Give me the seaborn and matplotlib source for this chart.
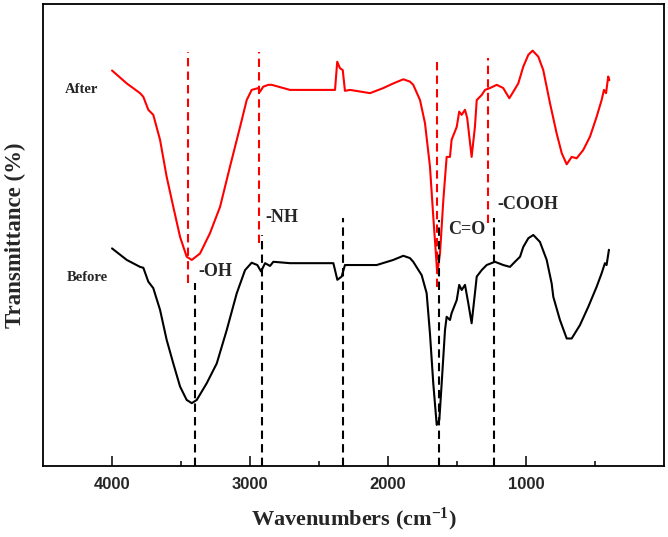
import numpy as np
import pandas as pd
import seaborn as sns
import matplotlib.pyplot as plt

# FTIR spectra (wavenumber in cm-1, transmittance in arbitrary %)
after_wn = [4000, 3893, 3797, 3773, 3737, 3701, 3652, 3604, 3556, 3507, 3459, 3422,
            3362, 3290, 3217, 3145, 3072, 3024, 2988, 2940, 2928, 2904, 2867, 2843,
            2710, 2384, 2368, 2348, 2328, 2312, 2275, 2130, 2034, 1962, 1889, 1841,
            1817, 1768, 1732, 1696, 1672, 1643, 1623, 1599, 1575, 1551, 1539, 1502,
            1484, 1466, 1442, 1426, 1394, 1370, 1357, 1321, 1297, 1261, 1212, 1165,
            1121, 1092, 1056, 1020, 983, 952, 911, 875, 826, 778, 741, 705, 669, 633,
            585, 536, 488, 452, 435, 420, 404, 396]
after_t = [85.6, 82.8, 80.7, 79.9, 77.1, 76.0, 70.6, 62.6, 56.1, 49.6, 45.3, 44.6,
           46.0, 50.4, 56.1, 64.8, 73.4, 79.2, 81.4, 81.8, 81.0, 82.1, 82.5, 82.5,
           81.4, 81.4, 87.5, 86.1, 85.7, 81.2, 81.4, 80.7, 81.8, 82.8, 83.7, 83.2,
           82.5, 79.2, 74.2, 64.8, 54.0, 41.7, 46.1, 57.6, 66.9, 66.9, 70.6, 73.4,
           76.7, 76.0, 77.1, 75.3, 66.9, 73.4, 79.2, 80.3, 81.4, 81.8, 82.5, 81.8,
           79.6, 81.0, 82.8, 86.4, 89.0, 89.9, 88.6, 85.7, 78.5, 72.0, 67.7, 65.3,
           66.9, 66.6, 68.4, 71.3, 75.6, 79.2, 81.4, 80.7, 84.3, 83.5]

before_wn = [4000, 3893, 3797, 3773, 3737, 3701, 3652, 3604, 3556, 3507, 3459, 3422,
             3386, 3314, 3241, 3169, 3096, 3036, 2988, 2947, 2920, 2891, 2855, 2831,
             2710, 2396, 2367, 2336, 2312, 2082, 1962, 1889, 1841, 1817, 1756, 1720,
             1696, 1672, 1647, 1628, 1611, 1587, 1575, 1551, 1539, 1502, 1484, 1466,
             1442, 1418, 1394, 1370, 1357, 1321, 1285, 1225, 1165, 1116, 1080, 1043,
             1020, 983, 947, 899, 850, 814, 802, 754, 705, 669, 609, 548, 488, 452,
             428, 416, 399]
before_t = [47.1, 44.6, 43.1, 42.9, 39.9, 38.5, 33.8, 27.3, 22.2, 17.2, 14.3, 13.6,
            14.3, 17.9, 22.2, 29.4, 37.4, 42.4, 44.0, 43.5, 42.1, 43.9, 43.3, 44.2,
            43.9, 43.9, 40.3, 41.0, 43.5, 43.5, 44.6, 45.5, 45.0, 44.2, 41.3, 37.4,
            28.7, 17.9, 8.9, 10.0, 17.9, 29.4, 32.3, 31.6, 33.1, 35.9, 39.2, 38.1,
            39.2, 35.2, 30.9, 37.4, 41.0, 42.4, 43.5, 44.2, 43.5, 43.1, 44.2, 45.3,
            47.4, 49.3, 50.0, 48.5, 44.6, 39.5, 36.6, 31.6, 27.6, 27.6, 30.5, 34.5,
            38.8, 41.7, 43.9, 43.5, 46.8]

# marker lines for the assigned bands
after_peaks = [3447, 2935, 1643, 1273]
after_peak_lo = [39.6, 48.3, 38.7, 52.6]
after_peak_hi = [89.6, 89.6, 88.3, 88.3]
before_peaks = [3400, 2915, 2328, 1628, 1230]
before_peak_hi = [39.6, 50.0, 53.7, 53.2, 53.7]

band_labels = ["-OH", "-NH", "C=O", "-COOH"]
band_x = [3377, 2891, 1565, 1210]
band_y = [42.0, 53.7, 51.1, 56.5]

major_ticks = [4000, 3000, 2000, 1000]
minor_ticks = [3500, 2500, 1500, 500]

df = pd.concat([
    pd.DataFrame({"wn": after_wn, "T": after_t, "sample": "After"}),
    pd.DataFrame({"wn": before_wn, "T": before_t, "sample": "Before"}),
])

sns.set_style("ticks")
plt.rcParams["font.family"] = ["Liberation Serif", "DejaVu Serif"]
plt.rcParams["mathtext.fontset"] = "custom"
plt.rcParams["mathtext.bf"] = "Liberation Serif:bold"
plt.rcParams["mathtext.rm"] = "Liberation Serif:bold"
plt.rcParams["mathtext.default"] = "bf"

fig = plt.figure(figsize=(6.68, 5.37), dpi=100)
ax = fig.add_axes([0.0644, 0.1322, 0.9296, 0.8604])

sns.lineplot(data=df, x="wn", y="T", hue="sample", sort=False,
             palette={"After": "#ff0000", "Before": "black"},
             linewidth=1.5, legend=False, ax=ax, estimator=None)

dash = (0, (4, 2.5))
ax.vlines(after_peaks, after_peak_lo, after_peak_hi, colors="#ff0000",
          linestyles=dash, linewidth=1.5)
ax.vlines(before_peaks, 0, before_peak_hi, colors="black",
          linestyles=dash, linewidth=1.5)

ax.text(4340, 81.4, "After", fontsize=10.5, fontweight="bold", va="center")
ax.text(4326, 40.9, "Before", fontsize=10.5, fontweight="bold", va="center")
for lab, x, y in zip(band_labels, band_x, band_y):
    ax.text(x, y, lab, fontsize=13, fontweight="bold", va="center")

ax.set_xlim(4500, 0)
ax.set_ylim(0, 100)
ax.set_xticks(major_ticks)
ax.set_xticks(minor_ticks, minor=True)
ax.set_yticks([])
ax.tick_params(axis="x", which="major", direction="in", length=7, width=1.3,
               pad=8, labelsize=12)
ax.tick_params(axis="x", which="minor", direction="in", length=3.5, width=1.3)
for lab in ax.get_xticklabels():
    lab.set_fontfamily("Liberation Sans")
    lab.set_fontweight("bold")
for sp in ax.spines.values():
    sp.set_linewidth(1.3)
    sp.set_color("black")

ax.set_xlabel("Wavenumbers (cm$^{-1}$)", fontsize=16, fontweight="bold",
              labelpad=10)
ax.set_ylabel("Transmittance (%)", fontsize=16.5, fontweight="bold", labelpad=12)

fig.savefig("out.png", dpi=100)
